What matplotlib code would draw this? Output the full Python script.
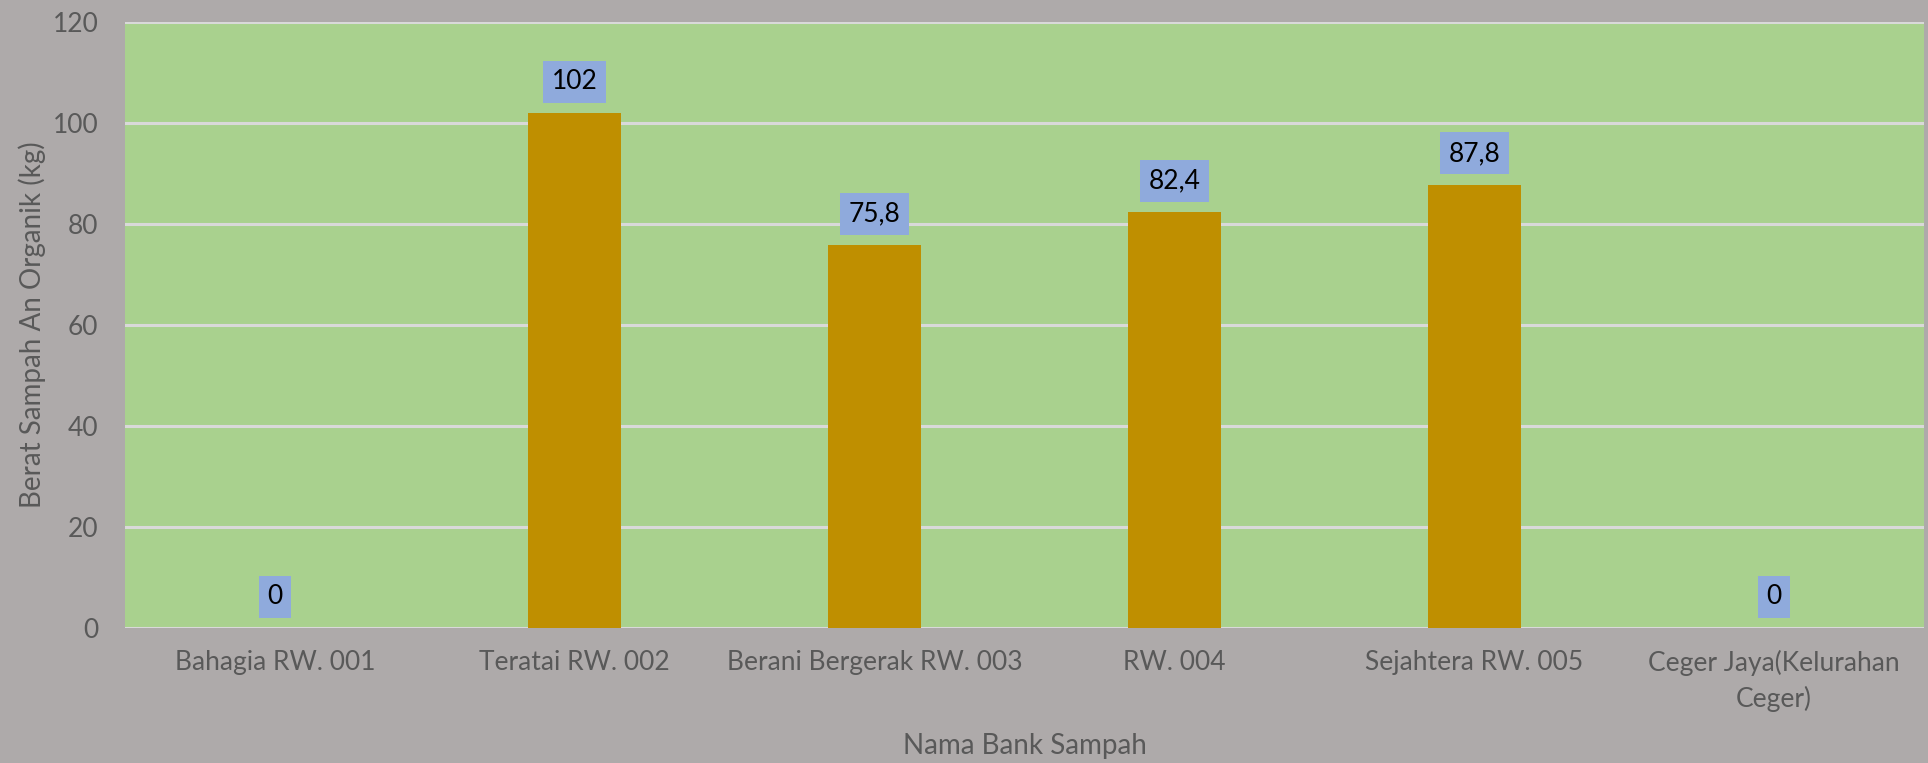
import matplotlib.pyplot as plt

plt.rcParams['font.family'] = ['Lato', 'DejaVu Sans']

# data
categories = ["Bahagia RW. 001", "Teratai RW. 002", "Berani Bergerak RW. 003",
              "RW. 004", "Sejahtera RW. 005", "Ceger Jaya(Kelurahan\nCeger)"]
values = [0, 102, 75.8, 82.4, 87.8, 0]
y_ticks = [0, 20, 40, 60, 80, 100, 120]

fig_bg = '#aeaaaa'
plot_bg = '#a9d18e'
bar_color = '#bf8f00'
box_color = '#8faadc'
text_gray = '#595959'


def fmt(v):
    # Indonesian decimal comma
    s = ('%g' % v)
    return s.replace('.', ',')


def main():
    fig = plt.figure(figsize=(19.28, 7.63), dpi=100, facecolor=fig_bg)
    ax = fig.add_axes([0.0648, 0.177, 0.9332, 0.794])
    ax.set_facecolor(plot_bg)

    x = list(range(len(categories)))
    ax.bar(x, values, width=0.31, color=bar_color, zorder=3)

    for xi, v in zip(x, values):
        ax.annotate(fmt(v), xy=(xi, v), xytext=(0, 13.5), textcoords='offset points',
                    ha='center', va='bottom', fontsize=19, color='black', zorder=4,
                    bbox=dict(boxstyle='square,pad=0.32', fc=box_color, ec='none'))

    ax.set_xlim(-0.5, len(categories) - 0.5)
    ax.set_ylim(0, 120)
    ax.set_yticks(y_ticks)
    ax.set_xticks(x)
    ax.set_xticklabels(categories, linespacing=1.45)
    ax.grid(axis='y', color='#d9d9d9', linewidth=2.2, zorder=1)
    ax.set_axisbelow(True)
    for sp in ax.spines.values():
        sp.set_visible(False)
    ax.tick_params(axis='y', length=0, pad=19, labelsize=19, labelcolor=text_gray)
    ax.tick_params(axis='x', length=0, pad=16, labelsize=19, labelcolor=text_gray)

    ax.set_xlabel("Nama Bank Sampah", fontsize=20, color=text_gray, labelpad=15)
    ax.set_ylabel("Berat Sampah An Organik (kg)", fontsize=20, color=text_gray, labelpad=5)

    fig.savefig('out.png', dpi=100, facecolor=fig_bg)


if __name__ == '__main__':
    main()
